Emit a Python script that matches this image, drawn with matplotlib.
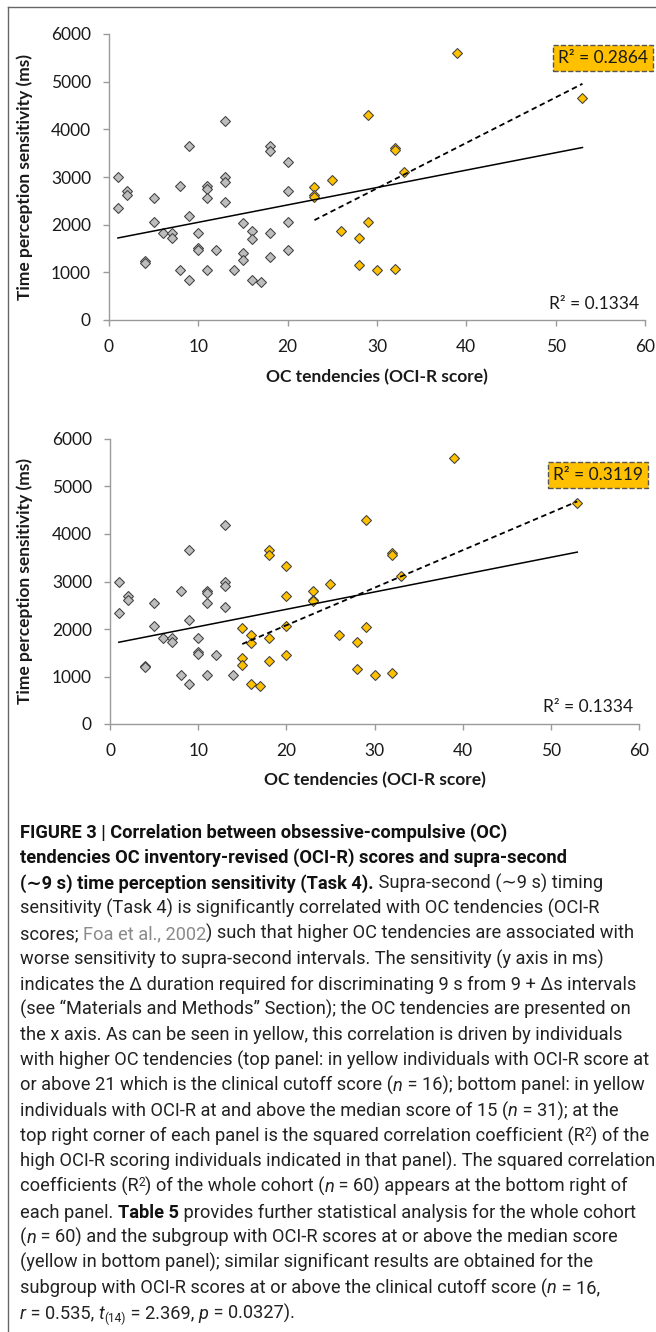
import numpy as np
import matplotlib
matplotlib.use("Agg")
import matplotlib.pyplot as plt
from matplotlib.lines import Line2D

# OCI-R score (x) and time perception sensitivity in ms (y), 60 participants
oci_scores = [1, 1, 2, 2, 4, 4, 5, 5, 6, 7, 7, 8, 8, 9, 9, 9, 10, 10, 10,
              11, 11, 11, 11, 12, 13, 13, 13, 13, 14, 15, 15, 15, 16, 16, 16,
              17, 18, 18, 18, 18, 20, 20, 20, 20, 23, 23, 23, 25, 26, 28, 28,
              29, 29, 30, 32, 32, 32, 33, 39, 53]
sensitivity_ms = [3000, 2340, 2700, 2620, 1230, 1190, 2550, 2060, 1820, 1820,
                  1720, 2810, 1040, 3660, 2180, 840, 1820, 1520, 1470, 2810,
                  2750, 2550, 1040, 1460, 4180, 3000, 2900, 2470, 1040, 2030,
                  1400, 1250, 1870, 1700, 840, 800, 3660, 3550, 1820, 1330,
                  3320, 2700, 2060, 1460, 2800, 2620, 2580, 2940, 1870, 1730,
                  1150, 4300, 2050, 1040, 3600, 3560, 1075, 3110, 5600, 4650]

panel_cutoffs = [21, 15]
panel_high_r2 = ["R\u00b2 = 0.2864", "R\u00b2 = 0.3119"]
whole_r2 = "R\u00b2 = 0.1334"
x_ticks = [0, 10, 20, 30, 40, 50, 60]
y_ticks = [0, 1000, 2000, 3000, 4000, 5000, 6000]

W, H = 656, 1332
GRAY = "#bdbdbd"
YELLOW = "#ffc000"
EDGE = "#404040"
CHART_FONT = ["Lato", "DejaVu Sans"]

fig = plt.figure(figsize=(W / 100, H / 100), dpi=100)


def px(x, y):
    return x / W, 1 - y / H


# panel boxes in pixels: left, top, right, bottom
panel_boxes = [(109, 34, 645, 320), (110, 439, 639, 724)]
xlabel_y = [377, 780]
r2_whole_pos = [(639, 304), (633, 707)]
r2_box_pos = [(603, 58), (598, 475)]

x = np.array(oci_scores, dtype=float)
y = np.array(sensitivity_ms, dtype=float)

for i, (l, t, r, b) in enumerate(panel_boxes):
    ax = fig.add_axes([l / W, 1 - b / H, (r - l) / W, (b - t) / H])
    high = x >= panel_cutoffs[i]

    ax.plot(x[~high], y[~high], ls="none", marker="D", ms=5.5, mfc=GRAY,
            mec=EDGE, mew=0.75, zorder=2)
    ax.plot(x[high], y[high], ls="none", marker="D", ms=5.5, mfc=YELLOW,
            mec=EDGE, mew=0.75, zorder=2)

    # trend lines
    k, c = np.polyfit(x, y, 1)
    xs = np.array([x.min(), x.max()])
    ax.plot(xs, k * xs + c, color="black", lw=1.1, zorder=3)
    k2, c2 = np.polyfit(x[high], y[high], 1)
    xs2 = np.array([x[high].min(), x[high].max()])
    ax.plot(xs2, k2 * xs2 + c2, color="black", lw=1.3, ls=(0, (3, 2)),
            zorder=3)

    ax.set_xlim(0, 60)
    ax.set_ylim(0, 6000)
    ax.set_xticks(x_ticks)
    ax.set_yticks(y_ticks)
    for side in ["top", "right"]:
        ax.spines[side].set_visible(False)
    for side in ["left", "bottom"]:
        ax.spines[side].set_color("#9a9a9a")
        ax.spines[side].set_linewidth(1)
    ax.tick_params(axis="y", length=4.5, width=1, color="#9a9a9a", pad=8.5,
                   labelsize=12.5, labelcolor="#1a1a1a")
    ax.tick_params(axis="x", length=4.5, width=1, color="#9a9a9a", pad=9.5,
                   labelsize=12.5, labelcolor="#1a1a1a")
    for lab in ax.get_xticklabels() + ax.get_yticklabels():
        lab.set_family(CHART_FONT)
    ax.patch.set_alpha(0)

    fig.text(*px(25, (t + b) / 2), "Time perception sensitivity (ms)",
             rotation=90, ha="center", va="center", fontsize=12.5,
             fontweight="bold", family=CHART_FONT, color="#1a1a1a")
    fig.text(*px((l + r) / 2, xlabel_y[i]), "OC tendencies (OCI-R score)",
             ha="center", va="center", fontsize=12.5, fontweight="bold",
             family=CHART_FONT, color="#1a1a1a")
    fig.text(*px(*r2_whole_pos[i]), whole_r2, ha="right", va="center",
             fontsize=12.5, family=CHART_FONT, color="#1a1a1a")
    fig.text(*px(*r2_box_pos[i]), panel_high_r2[i], ha="center", va="center",
             fontsize=12.5, family=CHART_FONT, color="#1a1a1a",
             bbox=dict(boxstyle="square,pad=0.3", fc=YELLOW, ec="#555555",
                       ls="--", lw=1))

# frame lines
fig.add_artist(Line2D([8 / W, 1], [1 - 7 / H, 1 - 7 / H], color="#666666",
                      lw=1, transform=fig.transFigure))
fig.add_artist(Line2D([8 / W, 8 / W], [1 - 7 / H, 0], color="#666666",
                      lw=1, transform=fig.transFigure))

# caption
caption = [
    [("FIGURE 3 | Correlation between obsessive-compulsive (OC)", "b")],
    [("tendencies OC inventory-revised (OCI-R) scores and supra-second", "b")],
    [("(\u223c9 s) time perception sensitivity (Task 4).", "b"),
     (" Supra-second (\u223c9 s) timing", "r")],
    [("sensitivity (Task 4) is significantly correlated with OC tendencies (OCI-R", "r")],
    [("scores; ", "r"), ("Foa et al., 2002", "g"),
     (") such that higher OC tendencies are associated with", "r")],
    [("worse sensitivity to supra-second intervals. The sensitivity (y axis in ms)", "r")],
    [("indicates the \u0394 duration required for discriminating 9 s from 9 + \u0394s intervals", "r")],
    [("(see \u201cMaterials and Methods\u201d Section); the OC tendencies are presented on", "r")],
    [("the x axis. As can be seen in yellow, this correlation is driven by individuals", "r")],
    [("with higher OC tendencies (top panel: in yellow individuals with OCI-R score at", "r")],
    [("or above 21 which is the clinical cutoff score (", "r"), ("n", "i"),
     (" = 16); bottom panel: in yellow", "r")],
    [("individuals with OCI-R at and above the median score of 15 (", "r"),
     ("n", "i"), (" = 31); at the", "r")],
    [("top right corner of each panel is the squared correlation coefficient (R", "r"),
     ("2", "sup"), (") of the", "r")],
    [("high OCI-R scoring individuals indicated in that panel). The squared correlation", "r")],
    [("coefficients (R", "r"), ("2", "sup"), (") of the whole cohort (", "r"),
     ("n", "i"), (" = 60) appears at the bottom right of", "r")],
    [("each panel. ", "r"), ("Table 5", "b"),
     (" provides further statistical analysis for the whole cohort", "r")],
    [("(", "r"), ("n", "i"),
     (" = 60) and the subgroup with OCI-R scores at or above the median score", "r")],
    [("(yellow in bottom panel); similar significant results are obtained for the", "r")],
    [("subgroup with OCI-R scores at or above the clinical cutoff score (", "r"),
     ("n", "i"), (" = 16,", "r")],
    [("r", "i"), (" = 0.535, ", "r"), ("t", "i"), ("(14)", "sub"),
     (" = 2.369, ", "r"), ("p", "i"), (" = 0.0327).", "r")],
]

CAP_FONT = ["Roboto", "DejaVu Sans"]
renderer = fig.canvas.get_renderer()


def advance(txt, props):
    t1 = fig.text(0, 0, txt + "|", **props)
    t2 = fig.text(0, 0, "|", **props)
    w = (t1.get_window_extent(renderer).width
         - t2.get_window_extent(renderer).width)
    t1.remove()
    t2.remove()
    return w


# fit the font size so the widest line spans the column
probe = dict(family=CAP_FONT, fontweight="normal", fontsize=10)
ref_w = advance(caption[9][0][0], probe)
FS = 10 * 628 / ref_w

TXT = "#222222"
styles = {
    "r": dict(family=CAP_FONT, fontweight="normal", fontsize=FS, color=TXT),
    "b": dict(family=CAP_FONT, fontweight="bold", fontsize=FS, color="#111111"),
    "g": dict(family=CAP_FONT, fontweight="normal", fontsize=FS, color="#8a8a8a"),
    "i": dict(family=CAP_FONT, fontweight="normal", style="italic", fontsize=FS,
              color=TXT),
    "sup": dict(family=CAP_FONT, fontweight="normal", fontsize=FS * 0.65,
                color=TXT),
    "sub": dict(family=CAP_FONT, fontweight="normal", fontsize=FS * 0.65,
                color=TXT),
}
shift = {"sup": -6, "sub": 3}

for n, line in enumerate(caption):
    cx = 20.0
    base_y = 838 + 25.3 * n
    for txt, st in line:
        fig.text(*px(cx, base_y + shift.get(st, 0)), txt, va="baseline",
                 ha="left", **styles[st])
        cx += advance(txt, styles[st])

fig.savefig("out.png", dpi=100)
